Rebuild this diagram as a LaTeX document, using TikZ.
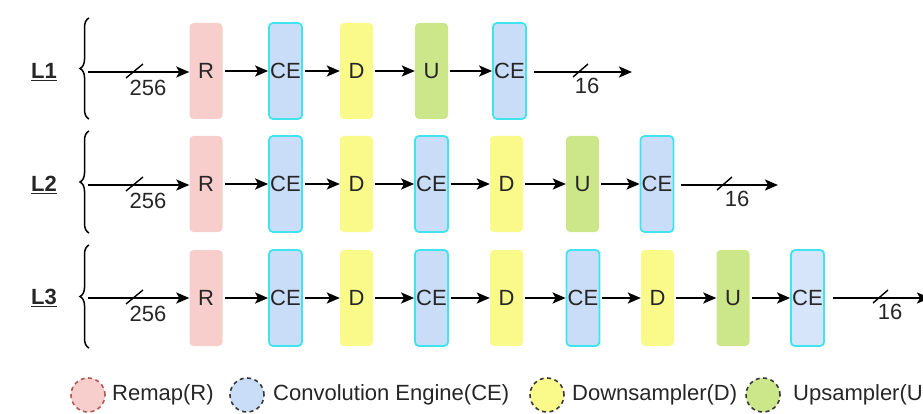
\documentclass[tikz,border=0pt]{standalone}
\usepackage{fontspec}
\setmainfont{Liberation Sans}
\usetikzlibrary{arrows.meta,decorations.pathreplacing}

\definecolor{remapfill}{HTML}{F8CECC}
\definecolor{cefill}{HTML}{C9DDF8}
\definecolor{celight}{HTML}{D6E5FA}
\definecolor{ceedge}{HTML}{3FE4EF}
\definecolor{dfill}{HTML}{FAFA8A}
\definecolor{ufill}{HTML}{CCE68A}
\definecolor{legedge}{HTML}{3A3A3A}
\definecolor{remapedge}{HTML}{B05A5A}

\tikzset{
  txt/.style={font=\fontsize{22}{25}\selectfont, text=black!85},
  block/.style={txt, rounded corners=4pt, minimum width=33pt, minimum height=96pt, inner sep=0pt},
  rblk/.style={block, fill=remapfill},
  ceblk/.style={block, fill=cefill, draw=ceedge, line width=1.8pt},
  dblk/.style={block, fill=dfill},
  ublk/.style={block, fill=ufill},
  flow/.style={-{Stealth[length=13pt,width=11pt,inset=3pt]}, line width=2.1pt, shorten <=2pt},
  busmark/.style={line width=1.4pt},
  buslabel/.style={txt},
  rowlabel/.style={font=\fontsize{22}{25}\selectfont\bfseries, text=black!85},
  rowbrace/.style={decorate, decoration={brace, amplitude=9pt}, line width=1.5pt},
  legdot/.style={circle, minimum size=34pt, inner sep=0pt, draw=legedge, dashed, dash pattern=on 4pt off 3.5pt, line width=1.6pt},
  legtext/.style={txt, anchor=west, inner sep=0pt}
}

\begin{document}
\begin{tikzpicture}[x=1pt, y={(0pt,-1pt)}]
\useasboundingbox (0,0) rectangle (923,414);

% ---------- row L1 ----------
\node[rowlabel] (l1) at (44,72) {\underline{L1}};
\draw[rowbrace] (89,119) -- (89,18);
\coordinate (in1) at (86,72);
\node[rblk]  (r1)   at (206,71)   {R};
\node[ceblk] (ce11) at (285.5,71) {CE};
\node[dblk]  (d11)  at (356.5,71) {D};
\node[ublk]  (u1)   at (431.5,71) {U};
\node[ceblk] (ce12) at (509.5,71) {CE};
\coordinate (out1) at (632,72);
\draw[flow] (in1) -- (r1.west |- in1);
\draw[flow] (r1) -- (ce11);
\draw[flow] (ce11) -- (d11);
\draw[flow] (d11) -- (u1);
\draw[flow] (u1) -- (ce12);
\draw[flow, shorten <=7pt] (ce12.east |- out1) -- (out1);
\draw[busmark] (in1) ++(40,6) -- ++(17,-14);
\node[buslabel] at (148,88) {256};
\draw[busmark] (out1) ++(-59,5) -- ++(15,-13);
\node[buslabel] at (587,86) {16};

% ---------- row L2 ----------
\node[rowlabel] (l2) at (44,185) {\underline{L2}};
\draw[rowbrace] (89,233) -- (89,131);
\coordinate (in2) at (86,185);
\node[rblk]  (r2)   at (206,184)   {R};
\node[ceblk] (ce21) at (285.5,184) {CE};
\node[dblk]  (d21)  at (356.5,184) {D};
\node[ceblk] (ce22) at (431.5,184) {CE};
\node[dblk]  (d22)  at (506.5,184) {D};
\node[ublk]  (u2)   at (582.5,184) {U};
\node[ceblk] (ce23) at (657,184)   {CE};
\coordinate (out2) at (778,185);
\draw[flow] (in2) -- (r2.west |- in2);
\draw[flow] (r2) -- (ce21);
\draw[flow] (ce21) -- (d21);
\draw[flow] (d21) -- (ce22);
\draw[flow] (ce22) -- (d22);
\draw[flow] (d22) -- (u2);
\draw[flow] (u2) -- (ce23);
\draw[flow, shorten <=7pt] (ce23.east |- out2) -- (out2);
\draw[busmark] (in2) ++(40,6) -- ++(17,-14);
\node[buslabel] at (148,201) {256};
\draw[busmark] (out2) ++(-61,5) -- ++(15,-13);
\node[buslabel] at (737,199) {16};

% ---------- row L3 ----------
\node[rowlabel] (l3) at (44,298) {\underline{L3}};
\draw[rowbrace] (89,348) -- (89,245);
\coordinate (in3) at (86,298);
\node[rblk]  (r3)   at (206,298)   {R};
\node[ceblk] (ce31) at (285.5,298) {CE};
\node[dblk]  (d31)  at (356.5,298) {D};
\node[ceblk] (ce32) at (431.5,298) {CE};
\node[dblk]  (d32)  at (506.5,298) {D};
\node[ceblk] (ce33) at (583,298)   {CE};
\node[dblk]  (d33)  at (657.5,298) {D};
\node[ublk]  (u3)   at (733,298)   {U};
\node[ceblk, fill=celight] (ce34) at (807.5,298) {CE};
\coordinate (out3) at (930,298);
\draw[flow] (in3) -- (r3.west |- in3);
\draw[flow] (r3) -- (ce31);
\draw[flow] (ce31) -- (d31);
\draw[flow] (d31) -- (ce32);
\draw[flow] (ce32) -- (d32);
\draw[flow] (d32) -- (ce33);
\draw[flow] (ce33) -- (d33);
\draw[flow] (d33) -- (u3);
\draw[flow] (u3) -- (ce34);
\draw[flow, shorten <=8pt] (ce34.east |- out3) -- (out3);
\draw[busmark] (in3) ++(40,6) -- ++(17,-14);
\node[buslabel] at (148,314) {256};
\draw[busmark] (out3) ++(-57,5) -- ++(15,-13);
\node[buslabel] at (890,312) {16};

% ---------- legend ----------
\node[legdot, fill=remapfill, draw=remapedge] (kr) at (88,395) {};
\node[legtext] (tr) at (112,395) {Remap(R)};
\node[legdot, fill=cefill] (kce) at (247,395) {};
\node[legtext] (tce) at (273,395) {Convolution Engine(CE)};
\node[legdot, fill=dfill] (kd) at (547,395) {};
\node[legtext] (td) at (572,395) {Downsampler(D)};
\node[legdot, fill=ufill] (ku) at (763,395) {};
\node[legtext] (tu) at (793,395) {Upsampler(U)};
\end{tikzpicture}
\end{document}
